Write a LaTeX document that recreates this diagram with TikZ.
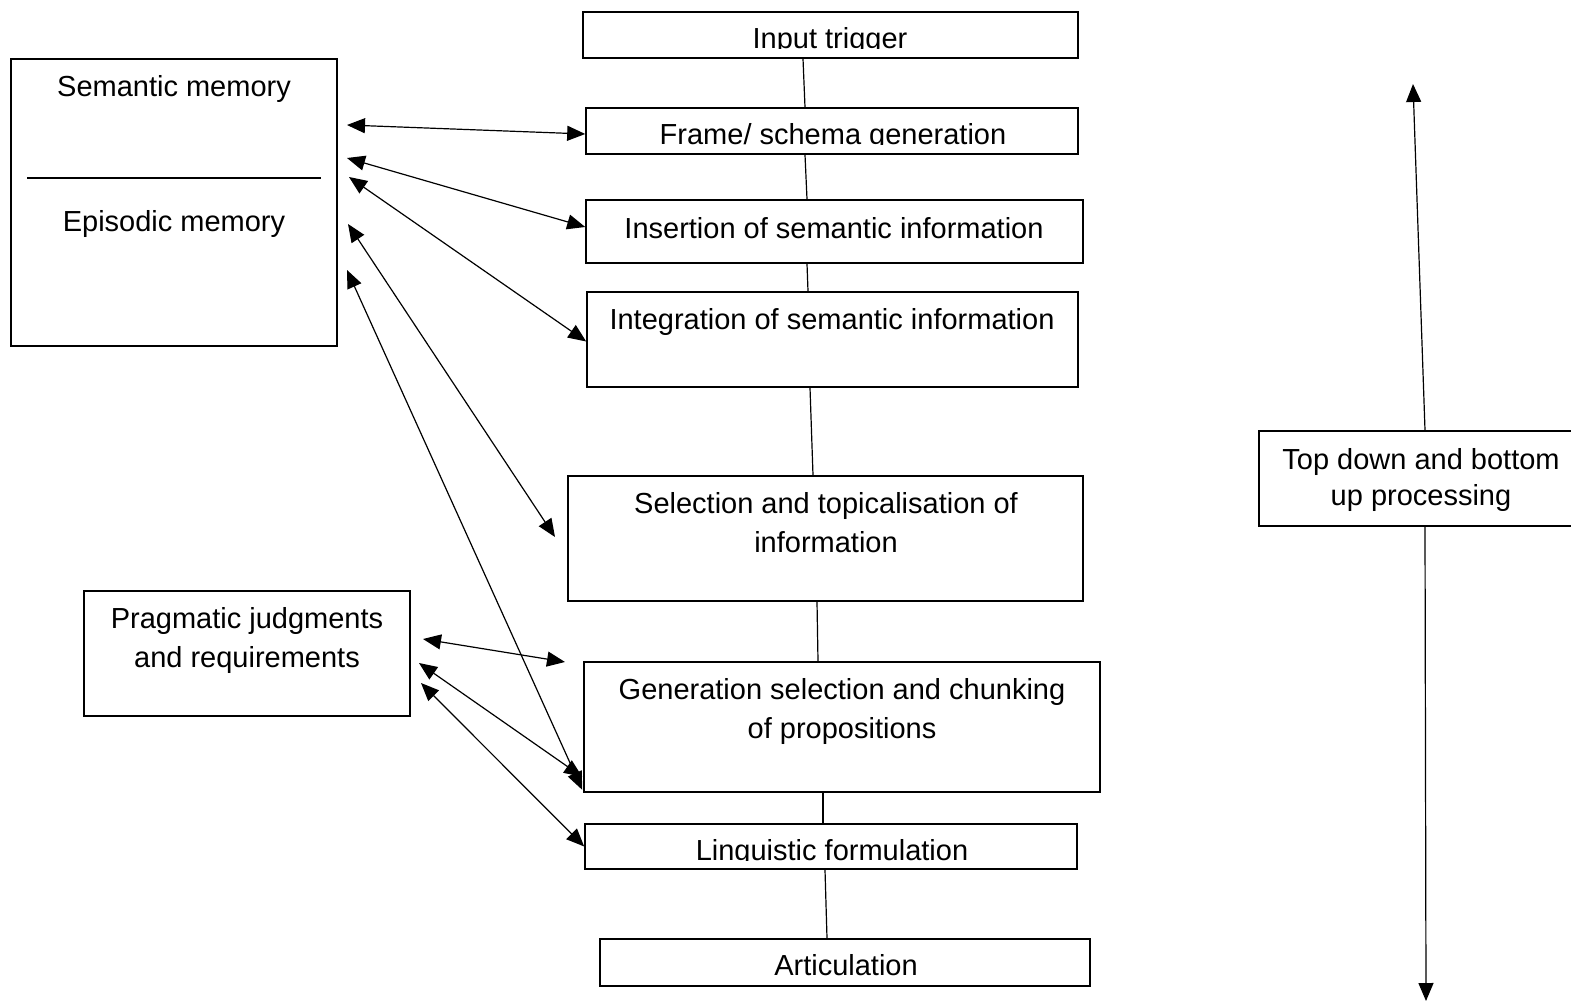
\documentclass[tikz,border=0pt]{standalone}
\usepackage{fontspec}
\setmainfont{Liberation Sans}
\usetikzlibrary{arrows.meta,fit}
\begin{document}
\begin{tikzpicture}[x=1pt,y=-1pt,
  box/.style={draw=black,line width=1.6pt,inner sep=0pt,fill=none},
  lbl/.style={anchor=base,inner sep=0pt,font=\fontsize{29}{39}\selectfont,align=center},
  conn/.style={line width=1.2pt},
  dbl/.style={line width=1.2pt,{Triangle[length=18pt,width=15pt]}-{Triangle[length=18pt,width=15pt]}},
  sgl/.style={line width=1.2pt,-{Triangle[length=18pt,width=15pt]}}]
\useasboundingbox (0,0) rectangle (1571,1006);
% boxes
\node[box,fit={(583,12) (1078,58)}] (inp) {};
\node[box,fit={(586,108) (1078,154)}] (frame) {};
\node[box,fit={(586,200) (1083,263)}] (ins) {};
\node[box,fit={(587,292) (1078,387)}] (integ) {};
\node[box,fit={(568,476) (1083,601)}] (sel) {};
\node[box,fit={(584,662) (1100,792)}] (gen) {};
\node[box,fit={(585,824) (1077,869)}] (ling) {};
\node[box,fit={(600,939) (1090,986)}] (art) {};
\node[box,fit={(11,59) (337,346)}] (mem) {};
\node[box,fit={(84,591) (410,716)}] (prag) {};
\node[box,fit={(1259,431) (1580,526)}] (td) {};
% divider in memory box
\draw[line width=1.4pt] (27,178) -- (321,178);
% labels (clipped ones)
\begin{scope}
\clip (583,12) rectangle (1078,49);
\node[lbl] (inpT) at (830,49) {Input trigger};
\end{scope}
\begin{scope}
\clip (586,108) rectangle (1078,145);
\node[lbl] (frameT) at (833,145) {Frame/ schema generation};
\end{scope}
\begin{scope}
\clip (585,824) rectangle (1077,860);
\node[lbl] (lingT) at (832,860) {Linguistic formulation};
\end{scope}
\begin{scope}
\clip (600,939) rectangle (1090,975);
\node[lbl] (artT) at (846,975) {Articulation};
\end{scope}
\node[lbl] (insT) at (834,238) {Insertion of semantic information};
\node[lbl] (integT) at (832,329) {Integration of semantic information};
\node[lbl] (selT) at (826,552) {Selection and topicalisation of\\information};
\node[lbl] (genT) at (842,738) {Generation selection and chunking\\of propositions};
\node[lbl] (semT) at (174,97) {Semantic memory};
\node[lbl] (epiT) at (174,231) {Episodic memory};
\node[lbl] (pragT) at (247,667) {Pragmatic judgments\\and requirements};
\node[lbl,font=\fontsize{29}{36}\selectfont] (tdT) at (1421,505) {Top down and bottom\\up processing};
% vertical connectors in the central chain
\draw[conn] ([xshift=-27.5pt]inp.south) -- ([xshift=-27pt]frame.north);
\draw[conn] ([xshift=-27pt]frame.south) -- ([xshift=-27.5pt]ins.north);
\draw[conn] ([xshift=-27.5pt]ins.south) -- ([xshift=-24.5pt]integ.north);
\draw[conn] ([xshift=-22.5pt]integ.south) -- ([xshift=-12.5pt]sel.north);
\draw[conn] ([xshift=-8.5pt]sel.south) -- ([xshift=-24pt]gen.north);
\draw[conn] ([xshift=-19pt]gen.south) -- ([xshift=-8pt]ling.north);
\draw[conn] ([xshift=-6pt]ling.south) -- ([xshift=-18pt]art.north);
% free ends
\coordinate (m1) at (347,125);
\coordinate (m2) at (347,158);
\coordinate (m3) at (349,177);
\coordinate (m4) at (348,224);
\coordinate (m5) at (347,270);
\coordinate (s4) at (555,537);
\coordinate (p1) at (423,639);
\coordinate (p2) at (419,663);
\coordinate (p3) at (421,683);
\coordinate (g1) at (565,662);
\coordinate (tup) at (1413,84);
\coordinate (tdn) at (1426,1001);
% memory arrows
\draw[dbl] (m1) -- ([yshift=-3pt]frame.west);
\draw[dbl] (m2) -- ([yshift=4.5pt]ins.west);
\draw[dbl] (m3) -- ([yshift=-2pt]integ.west);
\draw[dbl] (m4) -- (s4);
\draw[dbl] (m5) -- ([yshift=3pt,xshift=-1pt]gen.south west);
% pragmatic arrows
\draw[dbl] (p1) -- (g1);
\draw[dbl] (p2) -- ([yshift=16pt,xshift=-1pt]gen.south west);
\draw[dbl] (p3) -- (ling.west);
% processing direction
\draw[sgl] ([xshift=5.5pt]td.north) -- (tup);
\draw[sgl] ([xshift=5.5pt]td.south) -- (tdn);
\end{tikzpicture}
\end{document}
